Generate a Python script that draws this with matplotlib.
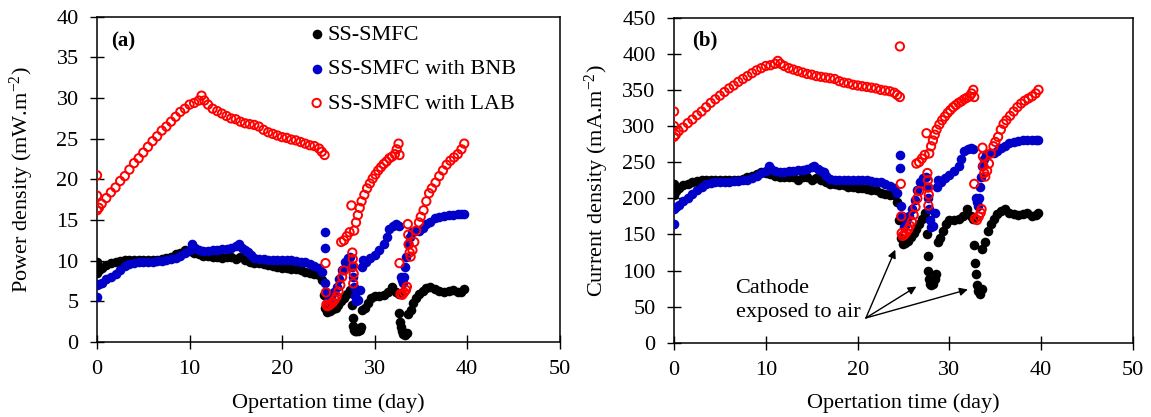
import numpy as np
import matplotlib
matplotlib.use("Agg")
import matplotlib.pyplot as plt

plt.rcParams['font.family'] = ['Liberation Serif', 'DejaVu Serif']
plt.rcParams['mathtext.fontset'] = 'custom'
plt.rcParams['mathtext.rm'] = 'Liberation Serif'
plt.rcParams['mathtext.it'] = 'Liberation Serif:italic'

# --- data: day, current density (mA/m2), power density (mW/m2)
# SS-SMFC (black)
blk_day = [0.0, 0.0, 0.2, 0.5, 1.0, 1.5, 2.0, 2.5, 3.0, 3.5, 4.0, 4.5, 5.0, 5.5, 6.0, 6.5,
           7.0, 7.5, 8.0, 8.5, 9.0, 9.5, 10.0, 10.5, 11.0, 11.5, 12.0, 12.5, 13.0, 13.5,
           14.0, 14.5, 15.0, 15.5, 16.0, 16.5, 17.0, 17.5, 18.0, 18.5, 19.0, 19.5, 20.0,
           20.5, 21.0, 21.5, 22.0, 22.5, 23.0, 23.5, 24.0, 24.3, 24.5, 24.7, 24.9, 25.2,
           25.5, 25.8, 26.1, 26.4, 26.7, 27.0, 27.3, 27.6, 27.65, 27.7, 27.8, 27.9, 28.0,
           28.2, 28.4, 28.5, 28.7, 29.0, 29.3, 29.6, 30.0, 30.5, 31.0, 31.5, 31.9, 32.3,
           32.6, 32.7, 32.8, 32.9, 33.0, 33.1, 33.3, 33.5, 33.6, 33.9, 34.2, 34.5, 34.8,
           35.2, 35.6, 36.0, 36.5, 37.0, 37.5, 38.0, 38.5, 39.0, 39.4, 39.7]
blk_cur = [220, 205, 210, 214, 218, 220, 222, 224, 225, 225, 225, 225, 225, 225, 225, 225,
           226, 227, 229, 231, 233, 236, 235, 233, 231, 230, 230, 229, 229, 226,
           229, 229, 225, 228, 225, 222, 220, 220, 219, 218, 216, 215, 214,
           214, 213, 212, 211, 208, 206, 205, 204, 195, 170, 145, 137, 138,
           141, 146, 152, 158, 165, 172, 180, 150, 120, 100, 88, 82, 80,
           82, 88, 95, 140, 145, 155, 165, 170, 170, 171, 175, 185, 175,
           172, 135, 110, 95, 80, 72, 68, 75, 130, 140, 155, 165, 172,
           178, 182, 185, 180, 178, 177, 178, 180, 176, 177, 180]
blk_pow = [9.9, 8.5, 8.8, 9.1, 9.5, 9.7, 9.9, 10.0, 10.1, 10.1, 10.1, 10.1, 10.1, 10.1, 10.1, 10.1,
           10.2, 10.3, 10.5, 10.8, 11.0, 11.3, 11.2, 11.0, 10.8, 10.6, 10.6, 10.5, 10.5, 10.3,
           10.5, 10.5, 10.2, 10.4, 10.1, 9.9, 9.7, 9.7, 9.6, 9.5, 9.3, 9.2, 9.1,
           9.1, 9.0, 9.0, 8.9, 8.6, 8.5, 8.4, 8.3, 7.6, 5.8, 4.2, 3.7, 3.8,
           4.0, 4.2, 4.6, 5.0, 5.4, 5.9, 6.4, 4.5, 2.9, 2.0, 1.5, 1.3, 1.3,
           1.3, 1.5, 1.8, 3.9, 4.2, 4.8, 5.4, 5.7, 5.7, 5.8, 6.1, 6.8, 6.1,
           5.9, 3.6, 2.4, 1.8, 1.3, 1.0, 0.9, 1.1, 3.4, 3.9, 4.8, 5.4, 5.9,
           6.3, 6.6, 6.8, 6.5, 6.3, 6.2, 6.3, 6.4, 6.2, 6.2, 6.5]

# SS-SMFC with BNB (blue)
bnb_day = [0.0, 0.0, 0.2, 0.5, 1.0, 1.5, 2.0, 2.5, 3.0, 3.5, 4.0, 4.5, 5.0, 5.5, 6.0, 6.5,
           7.0, 7.5, 8.0, 8.5, 9.0, 9.5, 10.0, 10.3, 10.6, 11.0, 11.5, 12.0, 12.5, 13.0,
           13.5, 14.0, 14.5, 15.0, 15.3, 15.7, 16.0, 16.3, 16.6, 17.0, 17.5, 18.0, 18.5,
           19.0, 19.5, 20.0, 20.5, 21.0, 21.5, 22.0, 22.5, 23.0, 23.5, 24.0, 24.3, 24.6,
           24.6, 24.7, 24.8, 25.0, 25.3, 25.6, 25.9, 26.2, 26.5, 26.8, 27.1, 27.4, 27.6,
           27.7, 27.8, 27.9, 28.0, 28.2, 28.4, 28.6, 28.8, 29.1, 29.5, 30.0, 30.5, 31.0,
           31.3, 31.6, 32.0, 32.3, 32.6, 32.9, 33.0, 33.1, 33.2, 33.3, 33.4, 33.6, 33.8,
           34.0, 34.4, 34.8, 35.2, 35.6, 36.0, 36.5, 37.0, 37.5, 38.0, 38.5, 39.0, 39.4, 39.7]
bnb_cur = [165, 185, 188, 191, 196, 201, 206, 211, 216, 220, 221, 222, 222, 223, 223, 224,
           224, 225, 226, 228, 231, 235, 238, 245, 240, 238, 237, 237, 238, 238,
           239, 239, 240, 243, 245, 241, 238, 236, 231, 227, 226, 226, 225,
           225, 225, 225, 225, 225, 224, 223, 222, 220, 217, 214, 208, 260,
           242, 190, 175, 160, 165, 175, 185, 198, 212, 222, 228, 230, 215,
           200, 185, 170, 160, 162, 180, 215, 225, 222, 228, 232, 238, 245,
           255, 265, 268, 270, 268, 200, 195, 190, 200, 215, 230, 245, 255,
           260, 262, 262, 265, 270, 273, 276, 278, 279, 280, 280, 281, 281, 280]
bnb_pow = [5.5, 7.0, 7.1, 7.3, 7.7, 8.0, 8.4, 8.8, 9.3, 9.6, 9.7, 9.8, 9.8, 9.9, 9.9, 10.0,
           10.0, 10.1, 10.2, 10.3, 10.6, 11.0, 11.3, 12.0, 11.5, 11.3, 11.2, 11.2, 11.3, 11.3,
           11.4, 11.4, 11.5, 11.8, 12.0, 11.6, 11.3, 11.1, 10.7, 10.3, 10.2, 10.2, 10.1,
           10.1, 10.1, 10.1, 10.1, 10.1, 10.0, 9.9, 9.8, 9.6, 9.4, 9.1, 8.6, 13.5,
           11.6, 7.2, 6.1, 5.1, 5.4, 6.1, 6.8, 7.8, 8.9, 9.8, 10.3, 10.5, 9.2,
           8.0, 6.8, 5.7, 5.1, 5.2, 6.4, 9.2, 10.1, 9.8, 10.3, 10.7, 11.3, 12.0,
           12.9, 13.9, 14.3, 14.5, 14.3, 8.0, 7.6, 7.2, 8.0, 9.2, 10.5, 12.0, 12.9,
           13.5, 13.7, 13.7, 14.0, 14.5, 14.8, 15.2, 15.4, 15.5, 15.6, 15.6, 15.7, 15.7, 15.7]

# SS-SMFC with LAB (red, open circles)
lab_day = [0.0, 0.0, 0.0, 0.2, 0.5, 1.0, 1.5, 2.0, 2.5, 3.0, 3.5, 4.0, 4.5, 5.0, 5.5, 6.0,
           6.5, 7.0, 7.5, 8.0, 8.5, 9.0, 9.5, 10.0, 10.5, 11.0, 11.3, 11.6, 12.0, 12.5,
           13.0, 13.5, 14.0, 14.5, 15.0, 15.5, 16.0, 16.5, 17.0, 17.5, 18.0, 18.5, 19.0,
           19.5, 20.0, 20.5, 21.0, 21.5, 22.0, 22.5, 23.0, 23.5, 24.0, 24.3, 24.6, 24.6,
           24.7, 24.75, 24.8, 24.9, 25.1, 25.3, 25.5, 25.7, 25.9, 26.1, 26.3, 26.5, 26.7,
           26.4, 26.7, 27.0, 27.3, 27.5, 27.6, 27.65, 27.7, 27.75, 27.7, 27.8, 28.0, 28.2,
           28.4, 28.6, 28.9, 29.2, 29.5, 29.8, 30.1, 30.4, 30.7, 31.0, 31.3, 31.6, 31.9,
           32.2, 32.4, 32.6, 32.7, 32.7, 32.8, 33.0, 33.2, 33.4, 33.5, 33.6, 33.65, 33.7,
           33.8, 33.9, 34.1, 34.3, 34.5, 34.8, 35.0, 35.3, 35.6, 35.9, 36.2, 36.6, 37.0,
           37.4, 37.8, 38.2, 38.6, 39.0, 39.4, 39.7]
lab_cur = [320, 300, 285, 288, 293, 298, 304, 309, 315, 320, 326, 332, 337, 342, 347, 352,
           356, 361, 365, 369, 373, 377, 380, 383, 384, 386, 390, 386, 383, 380,
           378, 376, 374, 372, 371, 369, 368, 367, 366, 365, 362, 360, 359,
           357, 356, 355, 354, 353, 352, 350, 349, 348, 346, 343, 340, 410,
           220, 175, 152, 148, 150, 153, 157, 162, 168, 177, 188, 200, 210,
           248, 250, 255, 260, 290, 235, 225, 215, 205, 190, 262, 272, 280,
           288, 295, 302, 308, 313, 318, 322, 326, 329, 332, 334, 337, 339,
           341, 345, 350, 340, 220, 172, 170, 175, 180, 185, 270, 258, 245,
           235, 230, 238, 248, 262, 272, 278, 285, 295, 303, 308, 314, 320,
           326, 331, 335, 338, 341, 345, 350]
lab_pow = [20.5, 18.0, 16.2, 16.5, 17.0, 17.7, 18.4, 19.0, 19.8, 20.4, 21.2, 22.0, 22.6, 23.3, 24.0, 24.7,
           25.3, 26.0, 26.5, 27.1, 27.7, 28.3, 28.7, 29.2, 29.4, 29.7, 30.3, 29.7, 29.2, 28.7,
           28.4, 28.1, 27.8, 27.5, 27.4, 27.1, 26.9, 26.8, 26.7, 26.5, 26.1, 25.8, 25.6,
           25.4, 25.2, 25.1, 24.9, 24.8, 24.6, 24.4, 24.2, 24.1, 23.8, 23.4, 23.0, np.nan,
           9.7, 6.1, 4.6, 4.4, 4.5, 4.7, 4.9, 5.2, 5.6, 6.2, 7.0, 8.0, 8.8,
           12.3, 12.5, 13.0, 13.5, 16.8, 11.0, 10.2, 9.3, 8.4, 7.2, 13.7, 14.7, 15.6,
           16.5, 17.3, 18.1, 18.9, 19.5, 20.1, 20.6, 21.1, 21.5, 21.9, 22.2, 22.6, 22.8,
           23.1, 23.7, 24.4, 23.0, 9.7, 5.9, 5.8, 6.1, 6.4, 6.8, 14.5, 13.2, 12.0,
           11.0, 10.5, 11.3, 12.3, 13.7, 14.7, 15.4, 16.2, 17.3, 18.3, 18.9, 19.6, 20.4,
           21.1, 21.8, 22.3, 22.7, 23.1, 23.7, 24.4]

labels = ['SS-SMFC', 'SS-SMFC with BNB', 'SS-SMFC with LAB']

fs = 16
fig = plt.figure(figsize=(11.51, 4.17), dpi=100)
ax_a = fig.add_axes([0.0843, 0.1799, 0.4018, 0.7798])
ax_b = fig.add_axes([0.5856, 0.1775, 0.3988, 0.7805])


def draw(ax, yb, yn, yl):
    ax.scatter(blk_day, yb, s=48, color='black', linewidths=0, label=labels[0], zorder=2)
    ax.scatter(bnb_day, yn, s=48, color='#0000c8', linewidths=0, label=labels[1], zorder=3)
    ax.scatter(lab_day, yl, s=36, facecolors='none', edgecolors='#ff0000',
               linewidths=1.4, label=labels[2], zorder=4)
    ax.set_xlim(0, 50)
    ax.set_xticks(np.arange(0, 51, 10))
    ax.tick_params(direction='inout', length=9.5, width=1, labelsize=fs, pad=8.5)
    for s in ax.spines.values():
        s.set_linewidth(1.1)
    ax.set_xlabel('Opertation time (day)', fontsize=fs, va='center')


draw(ax_a, blk_pow, bnb_pow, lab_pow)
ax_a.set_ylim(0, 40)
ax_a.set_yticks(np.arange(0, 41, 5))
ax_a.set_ylabel('Power density (mW.m$^{\\mathrm{-2}}$)', fontsize=fs, va='center')
ax_a.yaxis.set_label_coords(-0.162, 0.5)
ax_a.xaxis.set_label_coords(0.5, -0.188)
ax_a.text(0.031, 0.923, '(a)', transform=ax_a.transAxes, fontsize=15,
          fontweight='bold', va='center', ha='left')
ax_a.legend(loc='upper left', bbox_to_anchor=(0.446, 1.0), frameon=False, fontsize=fs,
            handlelength=0.5, handletextpad=0.25, labelspacing=0.62, borderaxespad=0.1,
            borderpad=0.25)

draw(ax_b, blk_cur, bnb_cur, lab_cur)
ax_b.set_ylim(0, 450)
ax_b.set_yticks(np.arange(0, 451, 50))
ax_b.set_ylabel('Current density (mA.m$^{\\mathrm{-2}}$)', fontsize=fs, va='center')
ax_b.yaxis.set_label_coords(-0.168, 0.5)
ax_b.xaxis.set_label_coords(0.5, -0.184)
ax_b.text(0.039, 0.93, '(b)', transform=ax_b.transAxes, fontsize=15,
          fontweight='bold', va='center', ha='left')
ax_b.text(6.7, 76, 'Cathode', fontsize=fs, va='center', ha='left')
ax_b.text(6.7, 41.5, 'exposed to air', fontsize=fs, va='center', ha='left')
for tip in [(24.1, 129), (26.4, 78), (32.0, 74)]:
    ax_b.annotate('', xy=tip, xytext=(20.9, 34.6),
                  arrowprops=dict(arrowstyle='-|>', color='black', lw=1,
                                  mutation_scale=12, shrinkA=0, shrinkB=0))

fig.savefig('out.png', dpi=100)
